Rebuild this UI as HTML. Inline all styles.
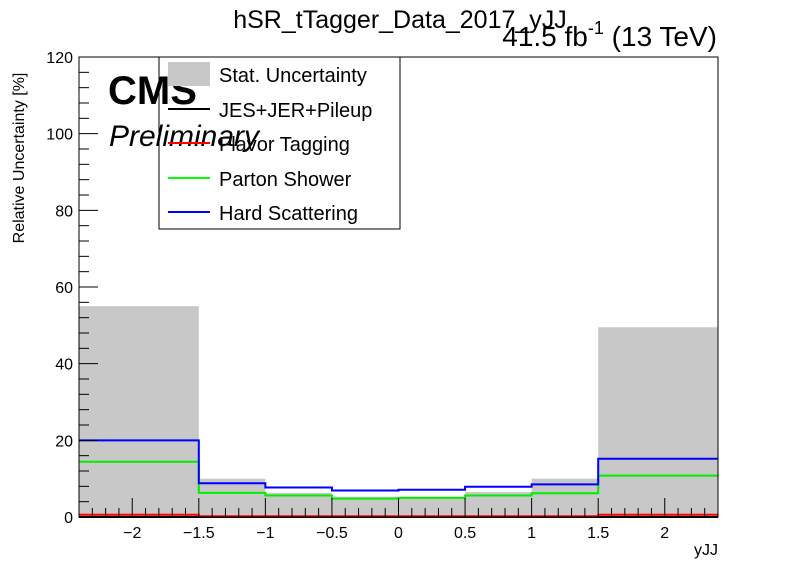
<!DOCTYPE html>
<html><head><meta charset="utf-8"><style>
body{margin:0;background:#fff;}
svg text{font-family:"Liberation Sans",Arial,sans-serif;}
</style></head><body>
<svg id="chart" width="798" height="575" xmlns="http://www.w3.org/2000/svg">
<g id="marks"></g>
<g id="axes"></g>
<text x="400" y="28" font-size="25" text-anchor="middle">hSR_tTagger_Data_2017_yJJ</text>
<text x="717" y="46" font-size="28" text-anchor="end">41.5 fb<tspan font-size="18" dy="-12">-1</tspan><tspan dy="12"> (13 TeV)</tspan></text>
<text transform="translate(24,158) rotate(-90)" font-size="16" text-anchor="middle">Relative Uncertainty [%]</text>
<text x="718" y="555" font-size="16" text-anchor="end">yJJ</text>
<text x="108" y="104" font-size="40" font-weight="bold">CMS</text>
<text x="109" y="146" font-size="30" font-style="italic">Preliminary</text>
<g>
<rect x="159" y="57" width="241" height="172" fill="none" stroke="#000" stroke-width="1"/>
<rect x="168" y="62" width="42" height="24" fill="#c8c8c8"/>
<text x="219" y="82" font-size="20">Stat. Uncertainty</text>
<line x1="168" y1="109" x2="210" y2="109" stroke="#000" stroke-width="2"/>
<text x="219" y="117" font-size="20">JES+JER+Pileup</text>
<line x1="168" y1="143" x2="210" y2="143" stroke="#f00" stroke-width="2"/>
<text x="219" y="151" font-size="20">Flavor Tagging</text>
<line x1="168" y1="178" x2="210" y2="178" stroke="#0f0" stroke-width="2"/>
<text x="219" y="186" font-size="20">Parton Shower</text>
<line x1="168" y1="212" x2="210" y2="212" stroke="#00f" stroke-width="2"/>
<text x="219" y="220" font-size="20">Hard Scattering</text>
</g>
</svg>
<script>
const binEdges=[-2.4,-1.5,-1,-0.5,0,0.5,1,1.5,2.4];
const statUnc=[55,10,6.3,5.3,5.3,6.5,10,49.5];
const jesUnc=[0,0,0,0,0,0,0,0];
const flavorUnc=[0.6,0.2,0.2,0.2,0.2,0.2,0.2,0.6];
const partonUnc=[14.4,6.3,5.6,4.8,5.0,5.6,6.2,10.8];
const hardUnc=[20,8.8,7.7,6.9,7.1,7.9,8.5,15.2];
const xTicks=[-2,-1.5,-1,-0.5,0,0.5,1,1.5,2];
const xTickLabels=["\u22122","\u22121.5","\u22121","\u22120.5","0","0.5","1","1.5","2"];
const yTicks=[0,20,40,60,80,100,120];
const L=79,R=718,T=57,B=517,XMIN=-2.4,XMAX=2.4,YMAX=120;
const sx=v=>L+(v-XMIN)/(XMAX-XMIN)*(R-L);
const sy=v=>B-v/YMAX*(B-T);
const NS="http://www.w3.org/2000/svg";
const marks=document.getElementById('marks'),axes=document.getElementById('axes');
function mk(tag,attrs,parent){const e=document.createElementNS(NS,tag);for(const k in attrs)e.setAttribute(k,attrs[k]);parent.appendChild(e);return e;}
statUnc.forEach((v,i)=>{
  const r=mk('rect',{x:sx(binEdges[i]),y:sy(v),width:sx(binEdges[i+1])-sx(binEdges[i]),height:B-sy(v),fill:'#c8c8c8'},marks);
  
  
});
function step(vals,color,name){
  let d='';
  vals.forEach((v,i)=>{d+=(i?'L':'M')+sx(binEdges[i])+','+sy(v)+'L'+sx(binEdges[i+1])+','+sy(v);});
  const p=mk('path',{d:d,fill:'none',stroke:color,'stroke-width':2},marks);
  
  
}
step(jesUnc,'#000','jes-line');
step(partonUnc,'#00ee00','parton-shower-line');
step(hardUnc,'#0000ff','hard-scattering-line');
step(flavorUnc,'#ff0000','flavor-tagging-line');
const frame=mk('rect',{x:L,y:T,width:R-L,height:B-T,fill:'none',stroke:'#000','stroke-width':1},axes);


for(let v=-2.4;v<=2.4001;v+=0.1){
  const major=Math.abs(v*2-Math.round(v*2))<1e-6;
  mk('line',{x1:sx(v),x2:sx(v),y1:B,y2:B-(major?19:9),stroke:'#000','stroke-width':1},axes);
}
xTicks.forEach((v,i)=>{
  const t=mk('text',{x:sx(v),y:538,'font-size':16,'text-anchor':'middle'},axes);
  t.textContent=xTickLabels[i];
  
  
});
for(let v=0;v<=120;v+=4){
  const major=v%20===0;
  mk('line',{x1:L,x2:L+(major?19:10),y1:sy(v),y2:sy(v),stroke:'#000','stroke-width':1},axes);
}
yTicks.forEach(v=>{
  const t=mk('text',{x:73,y:sy(v)+6,'font-size':16,'text-anchor':'end'},axes);
  t.textContent=v;
  
  
});
</script>
</body></html>
